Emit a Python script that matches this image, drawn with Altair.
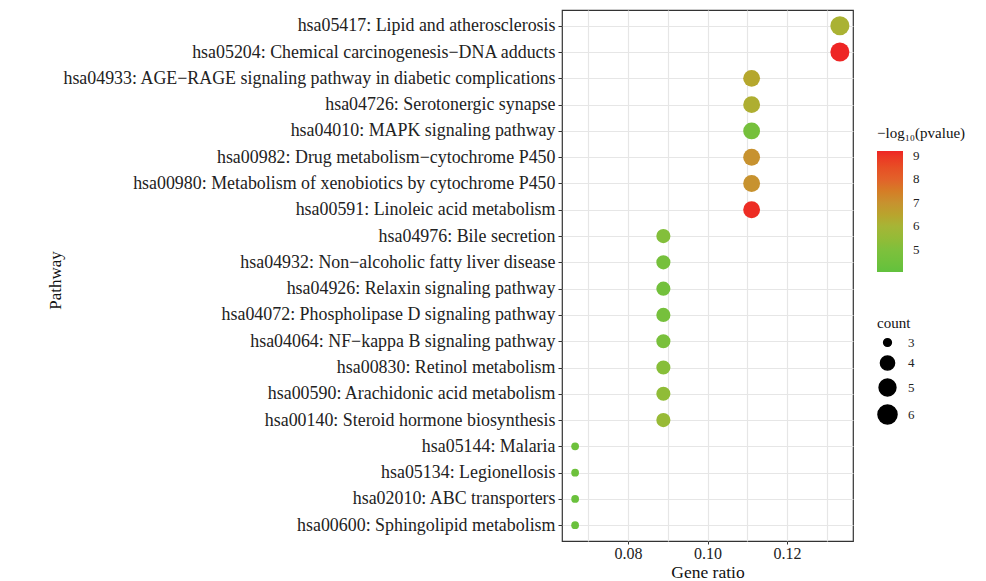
import altair as alt
import pandas as pd

pathways = [
    "hsa05417: Lipid and atherosclerosis",
    "hsa05204: Chemical carcinogenesis\u2212DNA adducts",
    "hsa04933: AGE\u2212RAGE signaling pathway in diabetic complications",
    "hsa04726: Serotonergic synapse",
    "hsa04010: MAPK signaling pathway",
    "hsa00982: Drug metabolism\u2212cytochrome P450",
    "hsa00980: Metabolism of xenobiotics by cytochrome P450",
    "hsa00591: Linoleic acid metabolism",
    "hsa04976: Bile secretion",
    "hsa04932: Non\u2212alcoholic fatty liver disease",
    "hsa04926: Relaxin signaling pathway",
    "hsa04072: Phospholipase D signaling pathway",
    "hsa04064: NF\u2212kappa B signaling pathway",
    "hsa00830: Retinol metabolism",
    "hsa00590: Arachidonic acid metabolism",
    "hsa00140: Steroid hormone biosynthesis",
    "hsa05144: Malaria",
    "hsa05134: Legionellosis",
    "hsa02010: ABC transporters",
    "hsa00600: Sphingolipid metabolism",
]
gene_ratio = [0.1333, 0.1333, 0.1111, 0.1111, 0.1111, 0.1111, 0.1111, 0.1111,
              0.0889, 0.0889, 0.0889, 0.0889, 0.0889, 0.0889, 0.0889, 0.0889,
              0.0667, 0.0667, 0.0667, 0.0667]
counts = [6, 6, 5, 5, 5, 5, 5, 5, 4, 4, 4, 4, 4, 4, 4, 4, 3, 3, 3, 3]
neglog_p = [6.1, 9.2, 6.4, 6.2, 4.7, 7.0, 7.0, 9.1,
            5.1, 4.7, 4.6, 4.7, 4.8, 5.2, 5.4, 5.6,
            4.4, 4.4, 4.3, 4.3]

color_stops = [4.06, 5, 6, 7, 8, 9.21]
color_range = ["#62C13D", "#7EC03C", "#A6B536", "#C7922F", "#E2622A", "#EE2424"]

df = pd.DataFrame({
    "Pathway": pathways,
    "GeneRatio": gene_ratio,
    "count": counts,
    "neglogp": neglog_p,
})

FONT = "Liberation Serif"

chart = alt.Chart(df).mark_circle(opacity=1).encode(
    x=alt.X(
        "GeneRatio:Q",
        title="Gene ratio",
        scale=alt.Scale(domain=[0.0634, 0.1366], nice=False, zero=False),
        axis=alt.Axis(
            values=[0.07, 0.08, 0.09, 0.10, 0.11, 0.12, 0.13],
            labelExpr="round(datum.value*100) % 2 == 0 ? format(datum.value, '.2f') : ''",
            tickOpacity={"condition": {"test": "round(datum.value*100) % 2 == 1", "value": 0}, "value": 1},
            gridColor="#E6E6E6",
            gridWidth=1.2,
            tickColor="#333333",
            tickSize=3,
            labelFontSize=16,
            labelColor="#222222",
            titleFontSize=17.5,
            titleFontWeight="normal",
            titleColor="#111111",
            titlePadding=2,
            labelPadding=1,
            domain=False,
        ),
    ),
    y=alt.Y(
        "Pathway:N",
        title="Pathway",
        sort=pathways,
        scale=alt.Scale(type="point", padding=0.6),
        axis=alt.Axis(
            gridColor="#E6E6E6",
            gridWidth=1.2,
            grid=True,
            tickColor="#333333",
            tickSize=4,
            labelFontSize=17.9,
            labelColor="#222222",
            labelLimit=700,
            titleFontSize=17,
            titleFontWeight="normal",
            titleColor="#111111",
            titleX=-498,
            titleY=270,
            labelPadding=3,
            domain=False,
        ),
    ),
    color=alt.Color(
        "neglogp:Q",
        title="\u2212log\u2081\u2080(pvalue)",
        scale=alt.Scale(domain=color_stops, range=color_range),
        legend=alt.Legend(
            values=[5, 6, 7, 8, 9],
            gradientLength=121,
            gradientThickness=26,
            orient="none",
            legendX=315,
            legendY=116,
            titlePadding=10,
            labelOffset=10,
        ),
    ),
    size=alt.Size(
        "count:Q",
        title="count",
        scale=alt.Scale(domain=[3, 4, 5, 6], range=[60, 200, 284, 363]),
        legend=alt.Legend(values=[3, 4, 5, 6], format="d", symbolFillColor="black",
                          symbolStrokeColor="black", orient="none",
                          legendX=315, legendY=306, titlePadding=5,
                          rowPadding=2, labelOffset=10),
    ),
).properties(
    width=291,
    height=531,
    autosize=alt.AutoSizeParams(type="none"),
    padding={"left": 554, "top": 2, "right": 125, "bottom": 40},
).configure(
    font=FONT,
    background="white",
).configure_view(
    stroke="#333333",
    strokeWidth=1.2,
).configure_legend(
    titleFontSize=15,
    titleFontWeight="normal",
    titleColor="#111111",
    labelFontSize=13,
    labelColor="#222222",
    padding=0,
)

chart.save("out.html", embed_options={"renderer": "svg", "actions": False})
